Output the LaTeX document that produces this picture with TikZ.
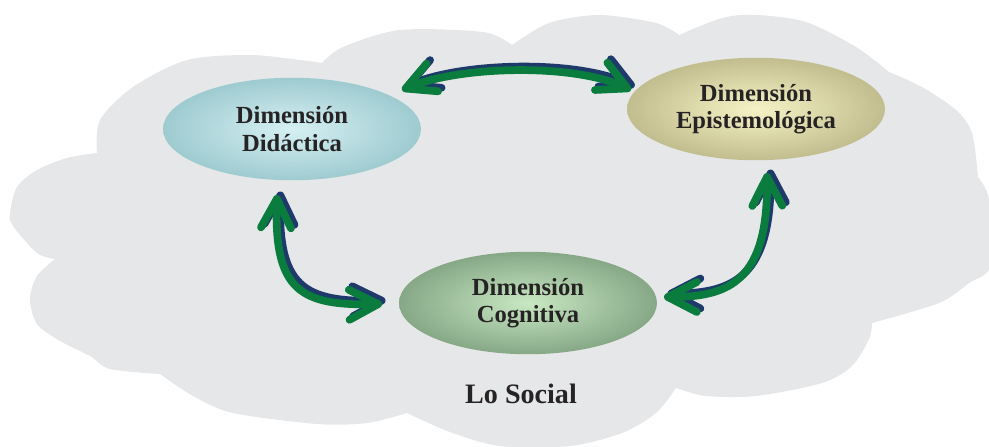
\documentclass[tikz,border=0pt]{standalone}
\usepackage{fontspec}
\setmainfont{Liberation Serif}
\usetikzlibrary{shapes,arrows.meta,positioning}

\definecolor{nubegris}{HTML}{E6E7E9}
\definecolor{verdeflecha}{HTML}{0A7C3E}
\definecolor{azulflecha}{HTML}{1D3A6B}
\definecolor{texto}{HTML}{262324}
\definecolor{didin}{HTML}{D6F0F3}
\definecolor{didout}{HTML}{9ECBD0}
\definecolor{epiin}{HTML}{F5F3C6}
\definecolor{epiout}{HTML}{C2BD8E}
\definecolor{cogin}{HTML}{C8E8C3}
\definecolor{cogout}{HTML}{87A886}

\tikzset{
	dim/.style={ellipse, minimum width=5.16cm, minimum height=2.05cm, inner sep=0pt,
		align=center, text=texto, font=\bfseries\fontsize{14}{15.5}\selectfont},
	flecha/.style={line width=4.4pt, line cap=round, verdeflecha,
		{Straight Barb[round,length=0.58cm,width=0.6cm]}-{Straight Barb[round,length=0.58cm,width=0.6cm]}},
	sombra/.style={flecha, azulflecha, transform canvas={shift={(3.5,-3.5)}}}
}

\begin{document}
\begin{tikzpicture}[x=0.02cm,y=-0.02cm]
	\useasboundingbox (0,0) rectangle (989,446);
	
	\fill[nubegris] plot[smooth] coordinates {(97,153) (100,120) (133,87) (187,60) (250,55) (300,60) (322,63)}
		-- plot[smooth] coordinates {(322,63) (343,47) (400,30) (483,32) (512,45)}
		-- plot[smooth] coordinates {(512,45) (549,23) (599,15) (656,23) (679,35)}
		-- plot[smooth] coordinates {(679,35) (722,18) (756,15) (806,22) (856,47) (889,72)}
		-- plot[smooth] coordinates {(889,72) (922,87) (956,110) (972,133) (978,177)}
		-- plot[smooth] coordinates {(978,177) (989,200) (990,266) (969,283) (939,303) (872,323)}
		-- plot[smooth] coordinates {(872,323) (869,339) (852,366) (822,383) (756,396) (706,396) (676,388)}
		-- plot[smooth] coordinates {(676,388) (656,413) (622,433) (570,446) (500,446) (450,432) (407,413)}
		-- plot[smooth] coordinates {(407,413) (367,423) (317,424) (233,413) (193,396) (160,374)}
		-- plot[smooth] coordinates {(160,374) (110,369) (90,356) (60,341) (37,324) (30,299) (37,276) (55,259)}
		-- plot[smooth] coordinates {(55,259) (37,253) (13,226) (10,213) (17,187) (37,170) (67,158) (97,153)}
		-- cycle;
	
	\node[dim, inner color=didin, outer color=didout] (did) at (292,129) {Dimensión\\Didáctica};
	\node[dim, inner color=epiin, outer color=epiout] (epi) at (756,109) {Dimensión\\Epistemológica};
	\node[dim, inner color=cogin, outer color=cogout] (cog) at (528,303) {Dimensión\\Cognitiva};
	\node[text=texto, font=\bfseries\fontsize{16}{18}\selectfont] (social) at (521,394) {Lo Social};
	
	\coordinate (didE) at (402,90);
	\coordinate (epiW) at (631,90);
	\coordinate (didS) at (277,195);
	\coordinate (cogW) at (382,304);
	\coordinate (epiS) at (767,173);
	\coordinate (cogE) at (664,297);
	
	\draw[sombra] (didE) .. controls (460,66) and (572,63) .. (epiW);
	\draw[sombra] (didS) .. controls (274,290) and (300,306) .. (cogW);
	\draw[sombra] (epiS) .. controls (768,280) and (730,297) .. (cogE);
	
	\draw[flecha] (didE) .. controls (460,66) and (572,63) .. (epiW);
	\draw[flecha] (didS) .. controls (274,290) and (300,306) .. (cogW);
	\draw[flecha] (epiS) .. controls (768,280) and (730,297) .. (cogE);
\end{tikzpicture}
\end{document}
